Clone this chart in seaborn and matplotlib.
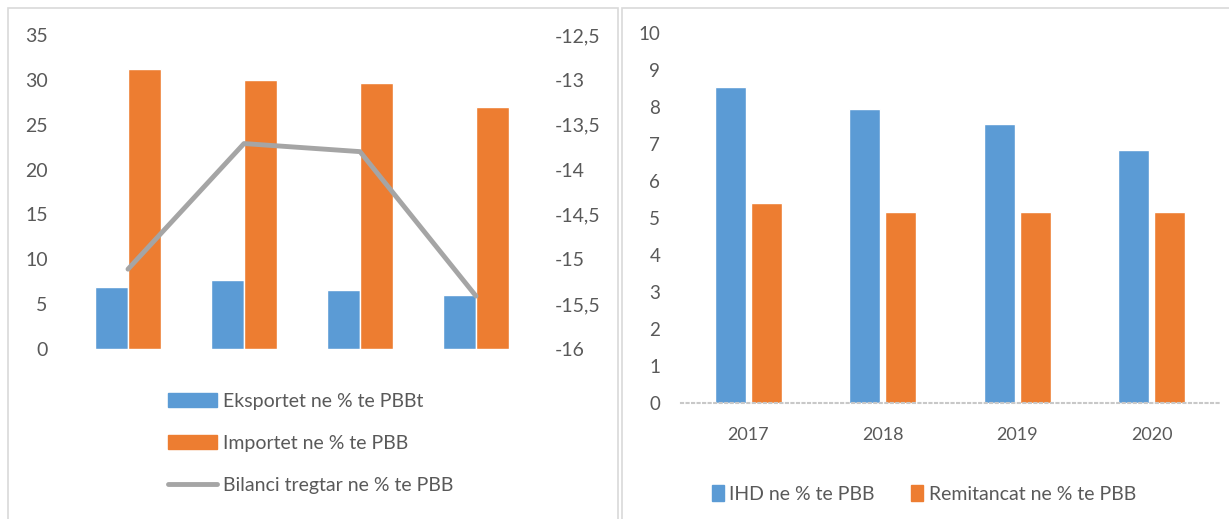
import numpy as np
import pandas as pd
import seaborn as sns
import matplotlib.pyplot as plt
from matplotlib.patches import Rectangle
from matplotlib.lines import Line2D

# data
years = ["2017", "2018", "2019", "2020"]
eksportet = [6.9, 7.65, 6.6, 6.0]
importet = [31.2, 29.95, 29.6, 26.95]
bilanci = [-15.11, -13.71, -13.80, -15.41]
ihd = [8.55, 7.95, 7.55, 6.85]
remitancat = [5.4, 5.15, 5.15, 5.15]

left_labels = ["Eksportet ne % te PBBt", "Importet ne % te PBB", "Bilanci tregtar ne % te PBB"]
right_labels = ["IHD ne % te PBB", "Remitancat ne % te PBB"]

blue = "#5B9BD5"
orange = "#ED7D31"
grey = "#A5A5A5"
txt = "#595959"

sns.set_style("white")
plt.rcParams["font.family"] = ["Lato", "DejaVu Sans"]

W, H = 1229, 519
fig = plt.figure(figsize=(W / 100, H / 100), dpi=100)

# panel borders
fig.patches.append(Rectangle((8 / W, -0.01), 610 / W, (H - 8) / H + 0.01, transform=fig.transFigure,
                             fill=False, edgecolor="#D9D9D9", linewidth=1.2))
fig.patches.append(Rectangle((622 / W, -0.01), 620 / W, (H - 8) / H + 0.01, transform=fig.transFigure,
                             fill=False, edgecolor="#D9D9D9", linewidth=1.2))

# ---- left chart
df_l = pd.DataFrame({"year": years * 2,
                     "val": eksportet + importet,
                     "serie": [left_labels[0]] * 4 + [left_labels[1]] * 4})
ax = fig.add_axes([70 / W, (H - 349) / H, 464 / W, 314 / H])
sns.barplot(data=df_l, x="year", y="val", hue="serie", palette=[blue, orange],
            width=0.57, ax=ax, legend=False, saturation=1)
ax.set_ylim(0, 35)
ax.set_xlim(-0.5, 3.5)
ax.set_yticks(range(0, 36, 5))
ax.set_xticks([])
ax.set_xlabel("")
ax.set_ylabel("")
ax.tick_params(axis="y", length=0, pad=16, labelsize=14, labelcolor=txt)
sns.despine(ax=ax, left=True, bottom=True)

ax2 = ax.twinx()
sns.pointplot(x=years, y=bilanci, ax=ax2, color=grey, markers="", linewidth=3.5, errorbar=None)
ax2.set_ylim(-16, -12.5)
ax2.set_xlim(-0.5, 3.5)
rt = np.arange(-16, -12.4, 0.5)
ax2.set_yticks(rt)
ax2.set_yticklabels([("%g" % v).replace(".", ",") for v in rt])
ax2.set_xticks([])
ax2.set_xlabel("")
ax2.tick_params(axis="y", length=0, pad=15, labelsize=14, labelcolor=txt)
for s in ax2.spines.values():
    s.set_visible(False)

handles = [Rectangle((0, 0), 1, 1, color=blue), Rectangle((0, 0), 1, 1, color=orange),
           Line2D([0], [0], color=grey, linewidth=3.5)]
fig.legend(handles, left_labels, loc="upper left", bbox_to_anchor=(150 / W, (H - 375) / H),
           frameon=False, fontsize=14, handlelength=2.55, handleheight=0.72, handletextpad=0.3,
           labelspacing=1.3, labelcolor=txt)

# ---- right chart
df_r = pd.DataFrame({"year": years * 2,
                     "val": ihd + remitancat,
                     "serie": [right_labels[0]] * 4 + [right_labels[1]] * 4})
axr = fig.add_axes([681 / W, (H - 403) / H, 538 / W, 370 / H])
sns.barplot(data=df_r, x="year", y="val", hue="serie", palette=[blue, orange],
            width=0.53, gap=0.13, ax=axr, saturation=1)
axr.set_ylim(0, 10)
axr.set_xlim(-0.5, 3.5)
axr.set_yticks(range(0, 11))
axr.set_xlabel("")
axr.set_ylabel("")
axr.tick_params(axis="y", length=0, pad=15, labelsize=13.5, labelcolor=txt)
axr.tick_params(axis="x", length=0, pad=17, labelsize=13, labelcolor=txt)
sns.despine(ax=axr, left=True)
axr.spines["bottom"].set_color("#C8C8C8")
axr.spines["bottom"].set_linestyle(":")
axr.spines["bottom"].set_linewidth(1.5)
axr.get_legend().remove()
rh = [Rectangle((0, 0), 1, 1, color=blue), Rectangle((0, 0), 1, 1, color=orange)]
fig.legend(rh, right_labels, loc="center left", bbox_to_anchor=(694 / W, (H - 494) / H),
           frameon=False, ncol=2, fontsize=14, handlelength=0.62, handleheight=0.88,
           handletextpad=0.3, columnspacing=1.85, labelcolor=txt)

fig.savefig("out.png", dpi=100)
